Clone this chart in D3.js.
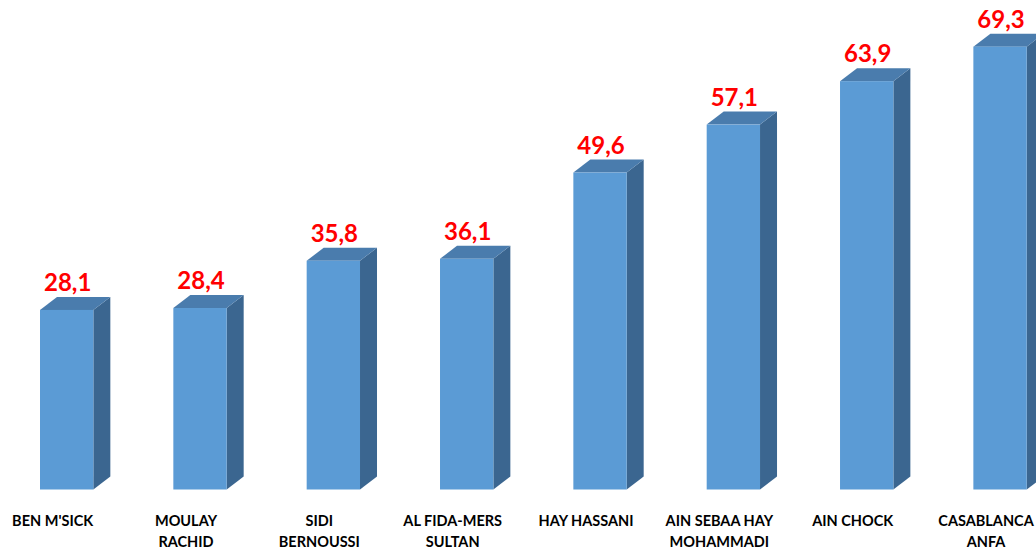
<!DOCTYPE html>
<html><head><meta charset="utf-8">
<script src="https://cdn.jsdelivr.net/npm/d3@7"></script>
<style>body{margin:0;background:#fff}svg{display:block}</style>
</head><body>
<svg id="c" width="1036" height="550"></svg>
<script>
const categories = ["BEN M'SICK", "MOULAY\nRACHID", "SIDI\nBERNOUSSI", "AL FIDA-MERS\nSULTAN", "HAY HASSANI", "AIN SEBAA HAY\nMOHAMMADI", "AIN CHOCK", "CASABLANCA\nANFA"];
const values = [28.1, 28.4, 35.8, 36.1, 49.6, 57.1, 63.9, 69.3];

const svg = d3.select("#c");
const x = d3.scaleBand().domain(categories).range([0, 1066.7]).paddingInner(0.6).paddingOuter(0.3);
const y = d3.scaleLinear().domain([0, 76.6]).range([489.5, 0]);
const dx = 17, dy = 13;
const fmt = d3.formatLocale({decimal: ",", thousands: " ", grouping: [3], currency: ["", ""]}).format(".1f");

const data = categories.map((c, i) => ({c, v: values[i]}));
const g = svg.append("g");
const bars = g.selectAll("g.bar").data(data).join("g").attr("class", "bar");

bars.append("path").attr("fill", "#3b6690").attr("d", d => {
  const x1 = x(d.c) + x.bandwidth(), yt = y(d.v), yb = y(0);
  return `M${x1},${yt}L${x1+dx},${yt-dy}L${x1+dx},${yb-dy}L${x1},${yb}Z`;
});
bars.append("path").attr("fill", "#4a7cad").attr("d", d => {
  const x0 = x(d.c), x1 = x0 + x.bandwidth(), yt = y(d.v);
  return `M${x0},${yt}L${x0+dx},${yt-dy}L${x1+dx},${yt-dy}L${x1},${yt}Z`;
});
bars.append("rect").attr("fill", "#5b9bd5")
  .attr("x", d => x(d.c)).attr("width", x.bandwidth())
  .attr("y", d => y(d.v)).attr("height", d => y(0) - y(d.v));

bars.append("text")
  .attr("x", d => x(d.c) + x.bandwidth() / 2 + 1)
  .attr("y", d => y(d.v) - 19)
  .attr("text-anchor", "middle")
  .attr("font-family", "Lato, 'Open Sans', sans-serif")
  .attr("font-weight", "bold").attr("font-size", 24)
  .attr("fill", "#ff0000")
  .text(d => fmt(d.v));

const labels = svg.append("g").selectAll("text").data(data).join("text")
  .attr("x", d => x(d.c) + x.bandwidth() / 2 - 14)
  .attr("y", 526)
  .attr("text-anchor", "middle")
  .attr("font-family", "Lato, 'Open Sans', sans-serif")
  .attr("font-weight", "bold").attr("font-size", 14.5)
  .attr("fill", "#000");
labels.each(function(d) {
  const t = d3.select(this);
  d.c.split("\n").forEach((line, i) => {
    t.append("tspan").attr("x", x(d.c) + x.bandwidth() / 2 - 14).attr("dy", i ? 21 : 0).text(line);
  });
});
</script>
</body></html>
